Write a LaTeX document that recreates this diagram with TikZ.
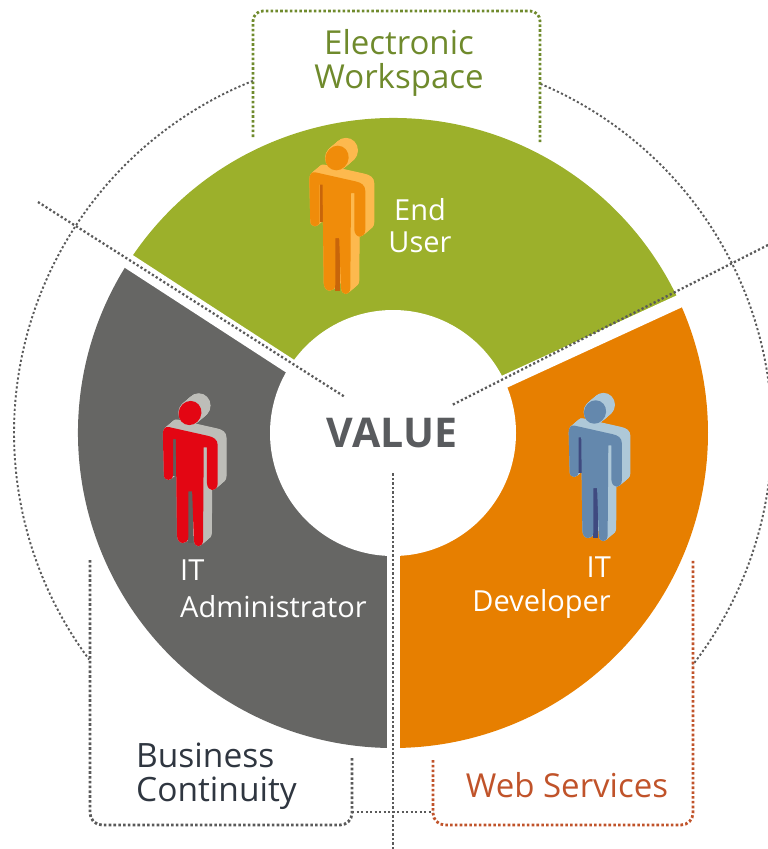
\documentclass[tikz,border=0pt]{standalone}
\usepackage{fontspec}
\setmainfont{Open Sans}
\definecolor{segGreen}{HTML}{9CB02B}
\definecolor{segGrey}{HTML}{666664}
\definecolor{segOrange}{HTML}{E77F00}
\definecolor{dotGrey}{HTML}{5A5A5A}
\definecolor{dotGreen}{HTML}{6F8A2C}
\definecolor{dotRust}{HTML}{C0532A}
\definecolor{inkDark}{HTML}{2F3640}
\definecolor{valueGrey}{HTML}{595B5E}
\definecolor{pOrF}{HTML}{F08C0A}
\definecolor{pOrB}{HTML}{FDB94E}
\definecolor{pOrS}{HTML}{C8650A}
\definecolor{pReF}{HTML}{E30613}
\definecolor{pReB}{HTML}{BDBDB8}
\definecolor{pReS}{HTML}{5F5F5D}
\definecolor{pBlF}{HTML}{6488AD}
\definecolor{pBlB}{HTML}{AEC8D8}
\definecolor{pBlS}{HTML}{3F4A80}
\newcommand{\figpath}{
  (-27.7,21.7) -- (-26.7,63.3) .. controls (-26.5,70) and (-17.5,70) .. (-17.3,63.3)
  -- (-17.3,26.7) -- (-14.5,26.7) -- (-13.3,125) .. controls (-13,135) and (-2,135) .. (-1.7,126.7)
  -- (-1.7,80) -- (2.2,80) -- (4,130) .. controls (4.5,138) and (13,138) .. (13.3,130)
  -- (14,35) -- (17.3,35) -- (17.3,71.7) .. controls (18,81) and (28,81) .. (28.3,71.7)
  -- (28.3,33) .. controls (28.3,27) and (24,24.5) .. (18.3,23.3)
  -- (-21.7,14.3) .. controls (-25,13.5) and (-27.8,16) .. (-27.7,21.7) -- cycle}
\newcommand{\person}[7]{% name, x, y, scale, front, back, slit
  \begin{scope}[shift={(#2,-#3)},yscale=-#4,xscale=#4]
    \foreach \k in {0,0.5,...,9} {
      \fill[#6,shift={(\k,-\k*0.85)}] \figpath;
      \fill[#6] (\k,-\k*0.85) ellipse[x radius=12,y radius=12.5];
    }
    \fill[#7] (-17.5,24) rectangle (-13,64);
    \fill[#7] (-2,78) rectangle (3,133);
    \fill[#5] \figpath;
    \fill[#5,rotate=25] (0,0) ellipse[x radius=11.5,y radius=12.5];
    \coordinate (#1) at (0,0);
  \end{scope}}
\tikzset{
  dots/.style={line width=2.8pt,line cap=butt,dash pattern=on 2.6pt off 2.2pt},
  thindots/.style={line width=2.3pt,line cap=butt,dash pattern=on 2.2pt off 2.3pt,color=dotGrey},
  gap/.style={white,line width=13pt},
  label/.style={inner sep=0pt,align=left,font=\fontsize{#1}{#1}\selectfont},
}
\begin{document}
\begin{tikzpicture}[x=1pt,y=1pt]
\useasboundingbox (0,-849) rectangle (768,0);
\clip (0,-849) rectangle (768,0);
\coordinate (c) at (393,-433);
% ring
\fill[segGreen] (c) -- ++(147:315) arc[start angle=147,end angle=25,radius=315] -- cycle;
\fill[segGrey] (c) -- ++(147:315) arc[start angle=147,end angle=270,radius=315] -- cycle;
\fill[segOrange] (c) -- ++(270:315) arc[start angle=270,end angle=385,radius=315] -- cycle;
\draw[gap,line width=15pt] (c) -- ++(147:330);
\draw[gap] (c) -- ++(24.7:330);
\draw[gap] (c) -- ++(270:330);
\node[circle,fill=white,minimum size=246pt,inner sep=0pt] (hub) at (c) {};
% persons
\person{headA}{337}{158}{1}{pOrF}{pOrB}{pOrS}
\person{headB}{190}{413}{0.98}{pReF}{pReB}{pReS}
\person{headC}{595}{412}{0.95}{pBlF}{pBlB}{pBlS}
% dotted radial lines
\coordinate (ra) at (38,-202);
\coordinate (rae) at (345,-397);
\coordinate (rb) at (768,-245);
\coordinate (rbe) at (452,-405);
\coordinate (rc) at (393,-849);
\coordinate (rce) at (393,-472);
\draw[thindots] (ra) -- (rae);
\draw[thindots] (rb) -- (rbe);
\draw[thindots] (rc) -- (rce);
% outer circle
\coordinate (bl) at (352,-812);
\coordinate (br) at (433,-812);
\draw[thindots,line width=1.9pt] (c) ++(111.7:379) arc[start angle=111.7,end angle=216.7,radius=379];
\draw[thindots,line width=1.9pt] (c) ++(67.1:379) arc[start angle=67.1,end angle=-37.7,radius=379];
\draw[thindots] (bl) -- (br);
% boxes
\coordinate (e1) at (253,-137);
\coordinate (e2) at (253,-11);
\coordinate (e3) at (540,-11);
\coordinate (e4) at (540,-143);
\draw[dots,dotGreen,rounded corners=10pt] (e1) -- (e2) -- (e3) -- (e4);
\coordinate (b1) at (90,-560);
\coordinate (b2) at (90,-825);
\coordinate (b3) at (352,-825);
\coordinate (b4) at (352,-757);
\draw[dots,dotGrey,rounded corners=12pt] (b1) -- (b2) -- (b3) -- (b4);
\coordinate (w1) at (433,-760);
\coordinate (w2) at (433,-825);
\coordinate (w3) at (693,-825);
\coordinate (w4) at (693,-560);
\draw[dots,dotRust,rounded corners=12pt] (w1) -- (w2) -- (w3) -- (w4);
% text
\node[font=\fontsize{41}{41}\selectfont\bfseries,text=valueGrey,inner sep=0pt] (value) at (392,-433) {VALUE};
\node[label=29,text=white,anchor=center,align=center] (enduser) at (420,-226) {End\\[3pt]User};
\node[label=29,text=white,anchor=west] (itadm) at (180,-570) {IT};
\node[label=29,text=white,anchor=west] (adm) at (180,-607) {Administrator};
\node[label=29,text=white,anchor=east] (itdev) at (611,-567) {IT};
\node[label=29,text=white,anchor=east] (dev) at (611,-604) {Developer};
\node[label=33,text=dotGreen,align=center] (ew) at (399,-63) {Electronic\\[1pt]Workspace};
\node[label=33.5,text=inkDark,anchor=west] (bc) at (136,-776) {Business\\[1pt]Continuity};
\node[label=33,text=dotRust] (ws) at (567,-785) {Web Services};
\end{tikzpicture}
\end{document}
